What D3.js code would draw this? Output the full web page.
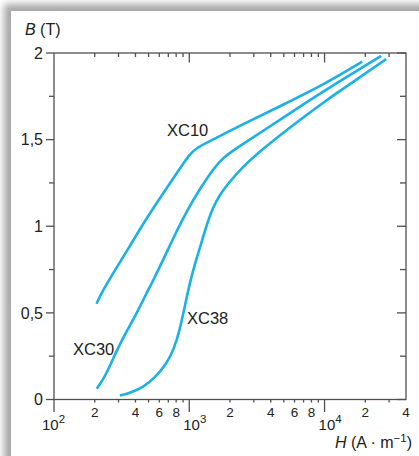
<!DOCTYPE html>
<html><head><meta charset="utf-8">
<script src="https://cdn.jsdelivr.net/npm/d3@7"></script>
<style>body{margin:0;background:#fff}svg{display:block;font-family:"Liberation Sans",Arial,sans-serif}</style>
</head><body><svg id="c" width="419" height="456"></svg>
<script>
// ---- data (H in A/m, B in T) ----
const seriesNames = ["XC10", "XC30", "XC38"];
const xc10H = [206, 230, 282, 352, 454, 586, 755, 896, 1009, 1155, 1417, 2360, 4900, 10000, 19000];
const xc10B = [0.553, 0.630, 0.746, 0.867, 1.012, 1.145, 1.272, 1.358, 1.416, 1.457, 1.491, 1.58, 1.70, 1.82, 1.95];
const xc30H = [207, 242, 290, 344, 408, 477, 547, 660, 805, 975, 1195, 1417, 1737, 2360, 3486, 7750, 14050, 26200];
const xc30B = [0.062, 0.139, 0.283, 0.393, 0.497, 0.605, 0.694, 0.827, 0.971, 1.098, 1.214, 1.301, 1.393, 1.462, 1.549, 1.728, 1.855, 1.983];
const xc38H = [307, 370, 456, 556, 679, 769, 851, 926, 1009, 1098, 1195, 1335, 1498, 1680, 1882, 2495, 3410, 5217, 10290, 16650, 28540];
const xc38B = [0.023, 0.040, 0.071, 0.124, 0.206, 0.289, 0.400, 0.538, 0.672, 0.780, 0.872, 1.000, 1.110, 1.180, 1.235, 1.345, 1.439, 1.555, 1.728, 1.838, 1.965];
const yTickValues = [0, 0.5, 1, 1.5, 2];
const yTickLabels = ["0", "0,5", "1", "1,5", "2"];
const yMinorValues = [0.25, 0.75, 1.25, 1.75];
const xDecades = [100, 1000, 10000];
const xDecadeExp = ["2", "3", "4"];
const xMinorValues = [200,300,400,500,600,700,800,900,2000,3000,4000,5000,6000,7000,8000,9000,20000,30000];
const xMinorLabelValues = [200,400,600,800,2000,4000,6000,8000,20000,40000];
const xMinorLabels = ["2","4","6","8","2","4","6","8","2","4"];
const labelPos = [[167, 1.52], [73, 0.255], [187, 0.435]]; // [x px start, B at baseline]

const svg = d3.select("#c");
const defs = svg.append("defs");
const f = defs.append("filter").attr("id","sh").attr("x","-20%").attr("y","-20%").attr("width","140%").attr("height","140%");
f.append("feGaussianBlur").attr("stdDeviation", 3.5);
svg.append("rect").attr("x",4).attr("y",4).attr("width",440).attr("height",480).attr("fill","#a8a8a8").attr("filter","url(#sh)");
svg.append("rect").attr("x",11).attr("y",11).attr("width",420).attr("height",460).attr("fill","#fff");

const x = d3.scaleLog().domain([100, 40000]).range([54, 406]);
const y = d3.scaleLinear().domain([0, 2]).range([399.5, 53]);
const axisCol = "#505050", txt = "#222";

const g = svg.append("g");
g.append("rect").attr("x", x(100)).attr("y", y(2)).attr("width", x(40000)-x(100)).attr("height", y(0)-y(2))
 .attr("fill","none").attr("stroke",axisCol).attr("stroke-width",1.3);

function line(x1,y1,x2,y2){g.append("line").attr("x1",x1).attr("y1",y1).attr("x2",x2).attr("y2",y2).attr("stroke",axisCol).attr("stroke-width",1.3);}
xMinorValues.forEach(v=>{ line(x(v),y(0),x(v),y(0)+3); line(x(v),y(2),x(v),y(2)+4); });
xDecades.forEach((v,i)=>{ line(x(v),y(0),x(v),y(0)+12.5); if(i>0) line(x(v),y(2),x(v),y(2)+9.5); });
yTickValues.forEach(v=>{ line(x(100)-8,y(v),x(100),y(v)); line(x(40000)-9,y(v),x(40000),y(v)); });
yMinorValues.forEach(v=>{ line(x(100)-5,y(v),x(100),y(v)); line(x(40000)-6,y(v),x(40000),y(v)); });

yTickValues.forEach((v,i)=>{
  g.append("text").attr("x",43).attr("y",y(v)).attr("dy","0.36em").attr("text-anchor","end")
   .attr("font-size",16).attr("fill",txt).text(yTickLabels[i]);
});
xMinorLabelValues.forEach((v,i)=>{
  g.append("text").attr("x",x(v)).attr("y",417).attr("text-anchor","middle")
   .attr("font-size",13.5).attr("fill",txt).text(xMinorLabels[i]);
});
xDecades.forEach((v,i)=>{
  const t = g.append("text").attr("x",x(v)-(i===0?12:6)).attr("y",430).attr("font-size",15).attr("fill",txt);
  t.append("tspan").text("10");
  t.append("tspan").attr("dy",-7).attr("font-size",11.5).text(xDecadeExp[i]);
});
const by = g.append("text").attr("x",25).attr("y",35).attr("font-size",16).attr("fill",txt);
by.append("tspan").attr("font-style","italic").text("B");
by.append("tspan").text(" (T)");
const hx = g.append("text").attr("x",412).attr("y",448).attr("text-anchor","end").attr("font-size",16).attr("fill",txt);
hx.append("tspan").attr("font-style","italic").text("H");
hx.append("tspan").text(" (A · m");
hx.append("tspan").attr("dy",-6).attr("font-size",11.5).text("−1");
hx.append("tspan").attr("dy",6).text(")");

const series = [[xc10H,xc10B],[xc30H,xc30B],[xc38H,xc38B]];
const ln = d3.line().x(d=>x(d[0])).y(d=>y(d[1])).curve(d3.curveBasis);
series.forEach((s,i)=>{
  const pts = s[0].map((h,j)=>[h,s[1][j]]);
  g.append("path").attr("d",ln(pts)).attr("fill","none").attr("stroke","#1ab0e8").attr("stroke-width",2.6);
  g.append("text").attr("x",labelPos[i][0]).attr("y",y(labelPos[i][1])).attr("font-size",16.5).attr("fill",txt).text(seriesNames[i]);
});
</script></body></html>
